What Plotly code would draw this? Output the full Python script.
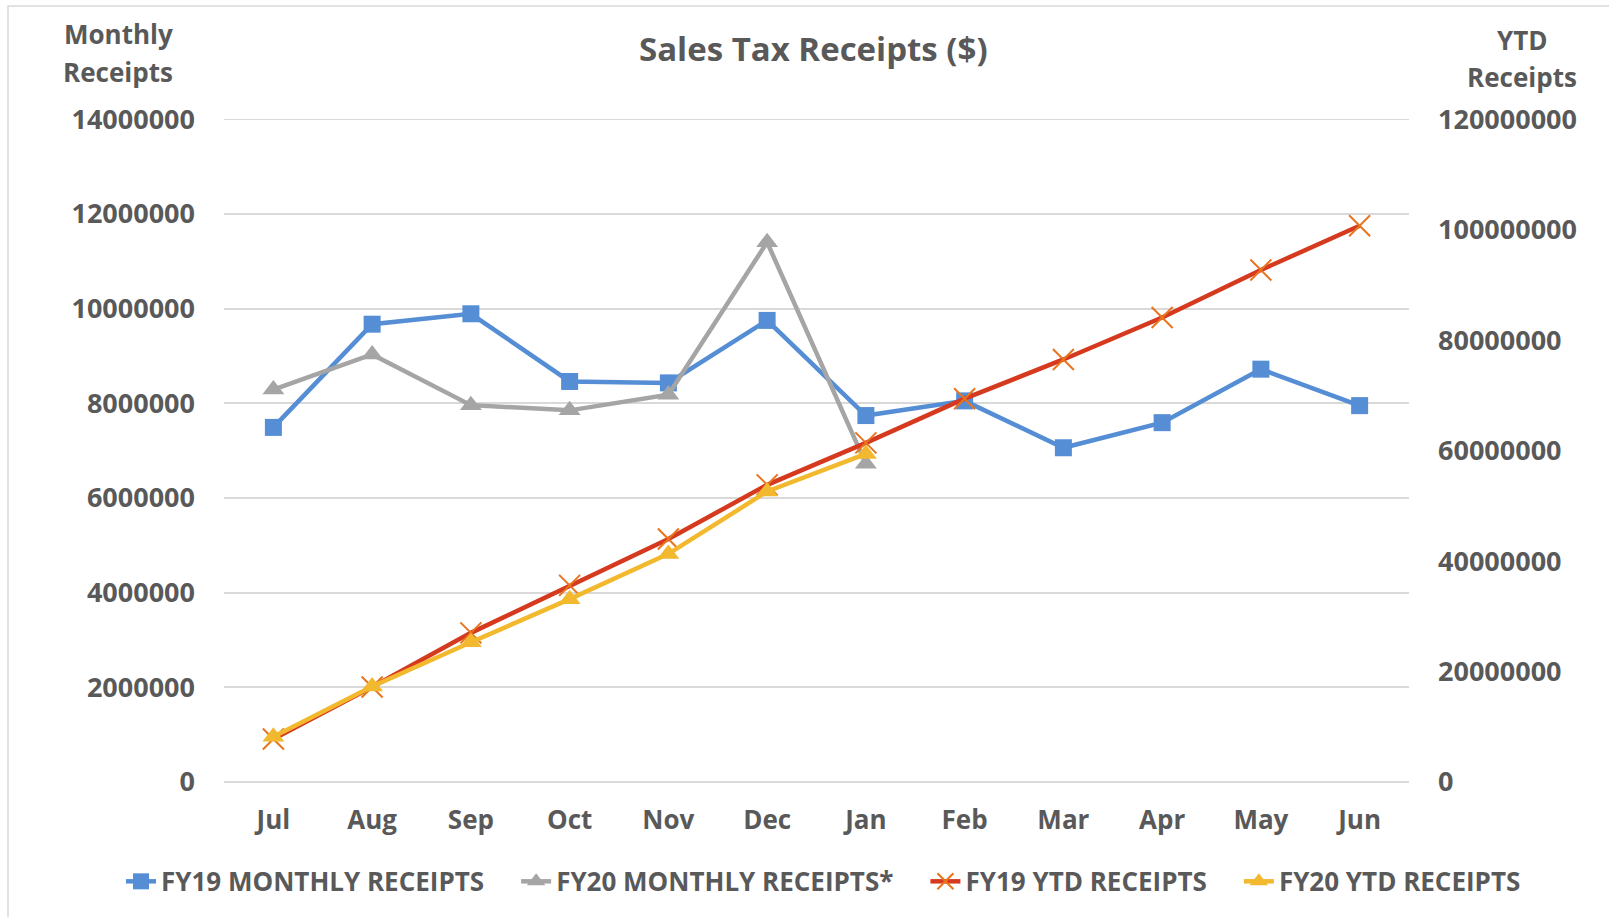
import plotly.graph_objects as go

months = ["Jul", "Aug", "Sep", "Oct", "Nov", "Dec", "Jan", "Feb", "Mar", "Apr", "May", "Jun"]
fy19_monthly = [7490000, 9670000, 9890000, 8460000, 8430000, 9750000, 7740000, 8050000, 7060000, 7590000, 8720000, 7950000]
fy20_monthly = [8290000, 9030000, 7960000, 7850000, 8180000, 11400000, 6720000]
fy19_ytd = [7800000, 17200000, 27000000, 35600000, 44000000, 53800000, 61400000, 69400000, 76500000, 84100000, 92700000, 100700000]
fy20_ytd = [8200000, 17300000, 25300000, 33100000, 41300000, 52600000, 59400000]
left_ticks = [0, 2000000, 4000000, 6000000, 8000000, 10000000, 12000000, 14000000]
right_ticks = [0, 20000000, 40000000, 60000000, 80000000, 100000000, 120000000]

FONT = "Open Sans"
TXT = "#595959"
GRID = "#D9D9D9"
W, H = 1609, 917
L, R, T, B = 224, 1409, 119, 782.5
PAD = "\u00a0\u00a0\u00a0\u00a0"

def xp(px):
    return (px - L) / (R - L)

def yp(py):
    return (B - py) / (B - T)

fig = go.Figure()
fig.add_trace(go.Scatter(
    x=months, y=fy19_monthly, name="FY19 MONTHLY RECEIPTS" + PAD, mode="lines+markers",
    line=dict(color="#558ED5", width=4.5),
    marker=dict(symbol="square", size=17, color="#558ED5")))
fig.add_trace(go.Scatter(
    x=months[:len(fy20_monthly)], y=fy20_monthly, name="FY20 MONTHLY RECEIPTS*" + PAD, mode="lines+markers",
    line=dict(color="#A5A5A5", width=4.5),
    marker=dict(symbol="triangle-up", size=19, color="#A5A5A5")))
fig.add_trace(go.Scatter(
    x=months, y=fy19_ytd, name="FY19 YTD RECEIPTS" + PAD, mode="lines+markers", yaxis="y2",
    line=dict(color="#D63A1E", width=4.5),
    marker=dict(symbol="x-thin", size=21, color="#E8741E", line=dict(color="#E8741E", width=2))))
fig.add_trace(go.Scatter(
    x=months[:len(fy20_ytd)], y=fy20_ytd, name="FY20 YTD RECEIPTS", mode="lines+markers", yaxis="y2",
    line=dict(color="#F2B92E", width=4.5),
    marker=dict(symbol="triangle-up", size=19, color="#F2B92E")))

tickfont = dict(family=FONT, size=27, color=TXT, weight="bold")
xtickfont = dict(family=FONT, size=26, color=TXT, weight="bold")

fig.update_layout(
    width=W, height=H,
    margin=dict(l=L, r=W - R, t=T, b=H - B, pad=0),
    paper_bgcolor="white", plot_bgcolor="white",
    showlegend=True,
    legend=dict(orientation="h", x=xp(121), xanchor="left", y=yp(882), yanchor="middle",
                font=dict(family=FONT, size=26, color=TXT, weight="bold"),
                itemwidth=30, tracegroupgap=0, bgcolor="rgba(0,0,0,0)", borderwidth=0),
    xaxis=dict(type="category", range=[-0.5, 11.5], showgrid=False, showline=False,
               ticks="", tickfont=xtickfont, ticklabelstandoff=20, zeroline=False),
    yaxis=dict(range=[0, 14004000], tickvals=left_ticks, tickformat="d",
               showgrid=True, gridcolor=GRID, gridwidth=1.5,
               zeroline=True, zerolinecolor=GRID, zerolinewidth=1.5,
               showline=False, ticks="", tickfont=tickfont, ticklabelstandoff=28),
    yaxis2=dict(range=[0, 120034286], tickvals=right_ticks, tickformat="d", overlaying="y",
                side="right", showgrid=False, zeroline=False, showline=False, ticks="",
                tickfont=tickfont, ticklabelstandoff=28),
    shapes=[
        dict(type="rect", xref="paper", yref="paper", x0=xp(8), x1=1.5, y0=-0.5, y1=yp(6),
             line=dict(color=GRID, width=1.5), fillcolor="rgba(0,0,0,0)", layer="below"),
        dict(type="line", xref="paper", yref="y", x0=0, x1=1, y0=left_ticks[-1], y1=left_ticks[-1],
             line=dict(color=GRID, width=1.5), layer="below"),
    ],
    annotations=[
        dict(text="Sales Tax Receipts ($)", xref="paper", yref="paper", x=xp(813), y=yp(48),
             xanchor="center", yanchor="middle", showarrow=False,
             font=dict(family=FONT, size=33, color=TXT, weight="bold")),
        dict(text="Monthly", xref="paper", yref="paper", x=xp(118), y=yp(34),
             xanchor="center", yanchor="middle", showarrow=False,
             font=dict(family=FONT, size=26, color=TXT, weight="bold")),
        dict(text="Receipts", xref="paper", yref="paper", x=xp(118), y=yp(72),
             xanchor="center", yanchor="middle", showarrow=False,
             font=dict(family=FONT, size=26, color=TXT, weight="bold")),
        dict(text="YTD", xref="paper", yref="paper", x=xp(1522), y=yp(40),
             xanchor="center", yanchor="middle", showarrow=False,
             font=dict(family=FONT, size=26, color=TXT, weight="bold")),
        dict(text="Receipts", xref="paper", yref="paper", x=xp(1522), y=yp(77),
             xanchor="center", yanchor="middle", showarrow=False,
             font=dict(family=FONT, size=26, color=TXT, weight="bold")),
    ],
)

fig.write_html("out.html", config={"displayModeBar": False},
               post_script="document.body.style.margin='0';document.body.style.overflow='hidden';")
